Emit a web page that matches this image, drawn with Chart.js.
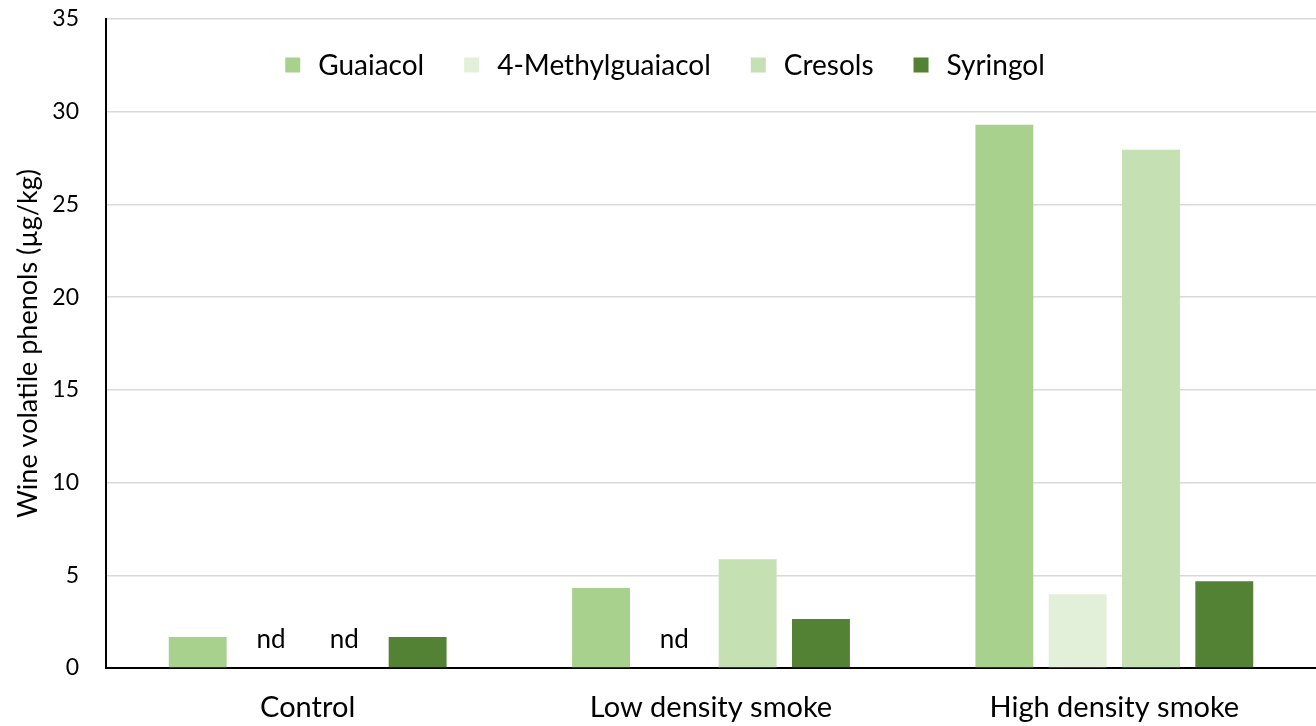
<!DOCTYPE html>
<html>
<head>
<meta charset="utf-8">
<script src="https://cdn.jsdelivr.net/npm/chart.js@4"></script>
<style>
  html, body { margin: 0; padding: 0; background: #fff; }
  #wrap { width: 1316px; height: 726px; }
</style>
</head>
<body>
<div id="wrap"><canvas id="chart"></canvas></div>
<script>
// data
const categories = ["Control", "Low density smoke", "High density smoke"];
const guaiacol = [1.67, 4.31, 29.3];
const methylguaiacol = [null, null, 3.98];   // nd = not detected
const cresols = [null, 5.87, 27.95];
const syringol = [1.67, 2.64, 4.68];
const yTicks = [0, 5, 10, 15, 20, 25, 30, 35];

const FONT = "Lato, 'Open Sans', sans-serif";

// legend drawn inside the plot area, like the original
const innerLegend = {
  id: 'innerLegend',
  afterDraw(chart) {
    const ctx = chart.ctx;
    ctx.save();
    ctx.font = '28px ' + FONT;
    ctx.textBaseline = 'middle';
    const box = 15, gap = 18, itemGap = 40;
    const items = chart.data.datasets.map(ds => ({ label: ds.label, color: ds.backgroundColor, w: box + gap + ctx.measureText(ds.label).width }));
    const total = items.reduce((s, it) => s + it.w, 0) + itemGap * (items.length - 1);
    let x = 665 - total / 2;
    const y = 65;
    items.forEach(it => {
      ctx.fillStyle = it.color;
      ctx.fillRect(x, y - box / 2, box, box);
      ctx.fillStyle = '#000';
      ctx.fillText(it.label, x + box + gap, y + 1);
      x += it.w + itemGap;
    });
    ctx.restore();
  }
};

// "nd" markers where a value was not detected
const ndLabels = {
  id: 'ndLabels',
  afterDatasetsDraw(chart) {
    const ctx = chart.ctx;
    const y0 = chart.scales.y.getPixelForValue(0);
    ctx.save();
    ctx.font = '26px ' + FONT;
    ctx.fillStyle = '#000';
    ctx.textAlign = 'center';
    ctx.textBaseline = 'middle';
    chart.data.datasets.forEach((ds, di) => {
      const meta = chart.getDatasetMeta(di);
      ds.data.forEach((v, i) => {
        if (v === null && meta.data[i]) {
          ctx.fillText('nd', meta.data[i].x, y0 - 28);
        }
      });
    });
    ctx.restore();
  }
};

new Chart(document.getElementById('chart'), {
  type: 'bar',
  data: {
    labels: categories,
    datasets: [
      { label: 'Guaiacol', data: guaiacol, backgroundColor: '#a9d18e' },
      { label: '4-Methylguaiacol', data: methylguaiacol, backgroundColor: '#e2efd9' },
      { label: 'Cresols', data: cresols, backgroundColor: '#c5e0b3' },
      { label: 'Syringol', data: syringol, backgroundColor: '#548235' }
    ]
  },
  options: {
    responsive: true,
    maintainAspectRatio: false,
    animation: false,
    categoryPercentage: 0.727,
    barPercentage: 0.79,
    layout: { padding: { top: 19, right: 0, left: 0, bottom: 0 } },
    plugins: { legend: { display: false }, tooltip: { enabled: false } },
    scales: {
      x: {
        grid: { display: false },
        border: { display: true, color: '#000', width: 2 },
        ticks: { color: '#000', font: { family: FONT, size: 29 }, padding: 14 },
        afterFit: s => { s.height = 58; s.paddingLeft = 0; s.paddingRight = 0; }
      },
      y: {
        min: 0,
        max: 35,
        afterBuildTicks: s => { s.ticks = yTicks.map(v => ({ value: v })); },
        grid: { color: '#d9d9d9', lineWidth: 1.5, drawTicks: false },
        border: { display: true, color: '#000', width: 2 },
        ticks: { color: '#000', font: { family: FONT, size: 23 }, padding: 27 },
        title: { display: true, text: 'Wine volatile phenols (µg/kg)', color: '#000', font: { family: FONT, size: 27 }, padding: { top: 12, bottom: 4 } },
        afterFit: s => { s.width = 106; s.paddingTop = 0; s.paddingBottom = 0; }
      }
    }
  },
  plugins: [innerLegend, ndLabels]
});
</script>
</body>
</html>
